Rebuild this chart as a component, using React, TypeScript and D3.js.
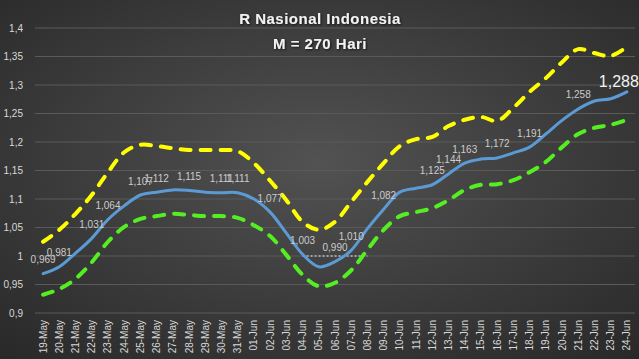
import React from "react";
import * as d3 from "d3";

const dates = [
  "19-May", "20-May", "21-May", "22-May", "23-May", "24-May", "25-May", "26-May", "27-May",
  "28-May", "29-May", "30-May", "31-May", "01-Jun", "02-Jun", "03-Jun", "04-Jun", "05-Jun",
  "06-Jun", "07-Jun", "08-Jun", "09-Jun", "10-Jun", "11-Jun", "12-Jun", "13-Jun", "14-Jun",
  "15-Jun", "16-Jun", "17-Jun", "18-Jun", "19-Jun", "20-Jun", "21-Jun", "22-Jun", "23-Jun", "24-Jun",
];

const rValues = [
  0.969, 0.981, 1.005, 1.031, 1.064, 1.088, 1.107, 1.112, 1.116,
  1.115, 1.112, 1.111, 1.111, 1.100, 1.077, 1.040, 1.003, 0.981,
  0.990, 1.010, 1.048, 1.082, 1.112, 1.119, 1.125, 1.144, 1.163,
  1.170, 1.172, 1.181, 1.191, 1.214, 1.238, 1.258, 1.272, 1.276, 1.288,
];

const upperValues = [
  1.025, 1.046, 1.074, 1.107, 1.147, 1.182, 1.195, 1.193, 1.189,
  1.186, 1.186, 1.186, 1.184, 1.163, 1.132, 1.098, 1.060, 1.046,
  1.060, 1.095, 1.130, 1.163, 1.193, 1.205, 1.209, 1.228, 1.239,
  1.244, 1.237, 1.260, 1.288, 1.312, 1.340, 1.363, 1.356, 1.351, 1.367,
];

const lowerValues = [
  0.932, 0.942, 0.960, 0.989, 1.025, 1.051, 1.065, 1.070, 1.074,
  1.072, 1.070, 1.070, 1.067, 1.054, 1.035, 1.002, 0.967, 0.947,
  0.953, 0.975, 1.011, 1.046, 1.070, 1.077, 1.084, 1.098, 1.116,
  1.125, 1.126, 1.133, 1.147, 1.165, 1.191, 1.214, 1.225, 1.230, 1.239,
];

// dates that carry a data label on the R line
const labelledDates = [
  "19-May", "20-May", "22-May", "23-May", "25-May", "26-May", "28-May", "30-May", "31-May",
  "02-Jun", "04-Jun", "06-Jun", "07-Jun", "09-Jun", "12-Jun", "13-Jun", "14-Jun", "16-Jun",
  "18-Jun", "21-Jun", "24-Jun",
];

const yTicks = [0.9, 0.95, 1, 1.05, 1.1, 1.15, 1.2, 1.25, 1.3, 1.35, 1.4];

const refLineDates = ["04-Jun", "08-Jun"];
const refLineValue = 1;

const titleLines = ["R Nasional Indonesia", "M = 270 Hari"];

const W = 639;
const H = 359;
const font = "'Liberation Sans', Arial, sans-serif";

const fmt = (v: number, digits: number) => v.toFixed(digits).replace(".", ",");
const fmtTick = (v: number) => String(+v.toFixed(2)).replace(".", ",");

export default function App() {
  const x = d3.scaleBand().domain(dates).range([35, 635]).padding(0);
  const cx = (d: string) => (x(d) as number) + x.bandwidth() / 2;
  const y = d3.scaleLinear().domain([0.9, 1.4]).range([313, 28]);

  const line = d3
    .line<number>()
    .x((_, i) => cx(dates[i]))
    .y((d) => y(d))
    .curve(d3.curveCatmullRom.alpha(0.5));

  return (
    <svg
      width={W}
      height={H}
      style={{ position: "absolute", left: 0, top: 0, display: "block" }}
    >
      <defs>
        <radialGradient id="bg" cx="50%" cy="45%" r="75%">
          <stop offset="0%" stopColor="#525252" />
          <stop offset="100%" stopColor="#282828" />
        </radialGradient>
        <filter id="shadow" x="-10%" y="-30%" width="120%" height="160%">
          <feDropShadow dx="1" dy="1" stdDeviation="1" floodColor="#000" floodOpacity="0.7" />
        </filter>
      </defs>
      <rect width={W} height={H} fill="url(#bg)" />

      {yTicks.map((t) => (
        <g key={t}>
          <line x1={35} x2={635} y1={y(t)} y2={y(t)} stroke="#5a5a5a" strokeWidth={1} />
          <text
            x={23}
            y={y(t)}
            dy="0.35em"
            textAnchor="end"
            fill="#d9d9d9"
            fontSize={10}
            fontFamily={font}
          >
            {fmtTick(t)}
          </text>
        </g>
      ))}

      {dates.map((d) => (
        <text
          key={d}
          transform={`translate(${cx(d)},320) rotate(-90)`}
          dy="0.35em"
          textAnchor="end"
          fill="#d9d9d9"
          fontSize={10}
          fontFamily={font}
        >
          {d}
        </text>
      ))}

      <line
        x1={cx(refLineDates[0])}
        x2={cx(refLineDates[1])}
        y1={y(refLineValue)}
        y2={y(refLineValue)}
        stroke="#f2f2f2"
        strokeWidth={1}
        strokeDasharray="2,2"
      />

      <path
        d={line(upperValues) || ""}
        fill="none"
        stroke="#ffff00"
        strokeWidth={4}
        strokeLinecap="round"
        strokeDasharray="10,10"
      />
      <path
        d={line(lowerValues) || ""}
        fill="none"
        stroke="#55ee22"
        strokeWidth={4}
        strokeLinecap="round"
        strokeDasharray="10,10"
      />
      <path
        d={line(rValues) || ""}
        fill="none"
        stroke="#5b9bd5"
        strokeWidth={3}
        strokeLinecap="round"
      />

      {labelledDates.map((d) => {
        const i = dates.indexOf(d);
        const last = i === dates.length - 1;
        return (
          <text
            key={d}
            x={last ? cx(d) - 8 : cx(d)}
            y={last ? y(rValues[i]) - 10 : y(rValues[i]) - 14}
            dy="0.35em"
            textAnchor="middle"
            fill={last ? "#f2f2f2" : "#cccccc"}
            fontSize={last ? 16 : 10}
            fontFamily={font}
          >
            {fmt(rValues[i], 3)}
          </text>
        );
      })}

      {titleLines.map((t, i) => (
        <text
          key={t}
          x={320}
          y={19 + i * 25}
          dy="0.35em"
          textAnchor="middle"
          fill="#f2f2f2"
          fontSize={15}
          fontWeight="bold"
          fontFamily={font}
          letterSpacing={0.5}
          filter="url(#shadow)"
        >
          {t}
        </text>
      ))}
    </svg>
  );
}
